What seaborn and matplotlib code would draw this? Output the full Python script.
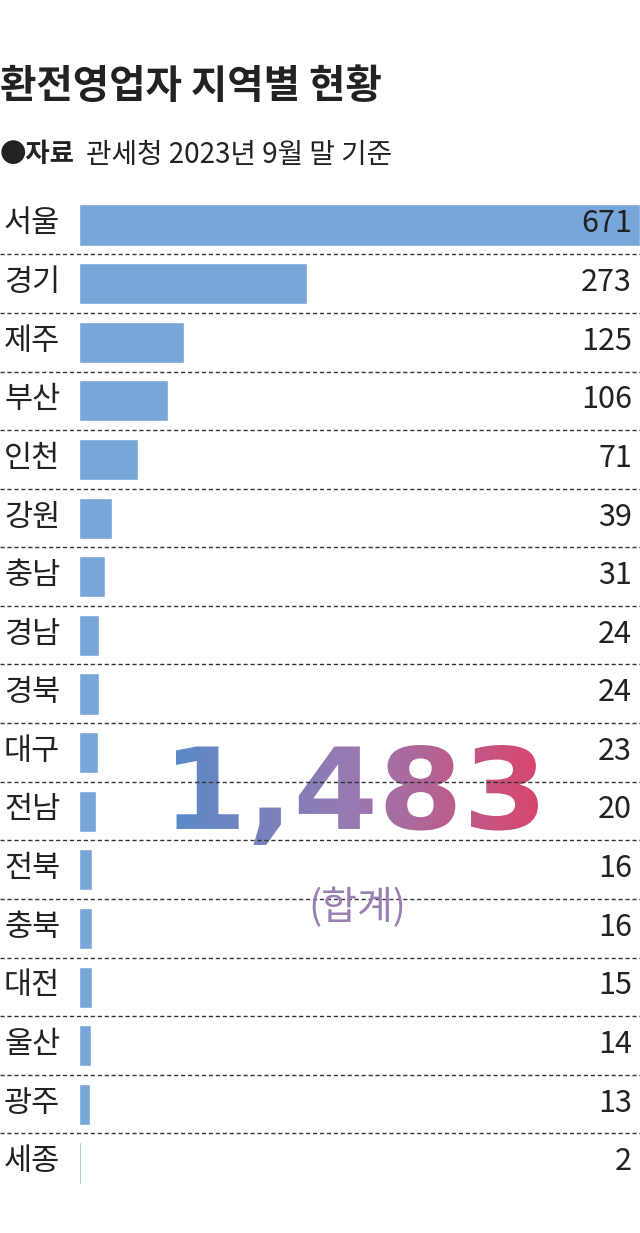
import numpy as np
import matplotlib
matplotlib.use("Agg")
import matplotlib.pyplot as plt
import seaborn as sns
from matplotlib.textpath import TextPath
from matplotlib.font_manager import FontProperties
from matplotlib.patches import PathPatch
from matplotlib.path import Path

regions = ["서울", "경기", "제주", "부산", "인천", "강원", "충남", "경남", "경북",
           "대구", "전남", "전북", "충북", "대전", "울산", "광주", "세종"]
counts = [671, 273, 125, 106, 71, 39, 31, 24, 24, 23, 20, 16, 16, 15, 14, 13, 2]
total_label = "1,483"

sns.set_theme(style="white")
plt.rcParams["font.family"] = ["Noto Sans CJK KR", "DejaVu Sans"]

fig = plt.figure(figsize=(6.4, 12.33), dpi=100)
ax = fig.add_axes([79 / 640, 1 - 1192.3 / 1233, 1 - 79 / 640, (1192.3 - 195.7) / 1233])
sns.barplot(x=counts, y=regions, ax=ax, color="#79a6d9", saturation=1, width=0.7, orient="h")
ax.set_xlim(0, 671)
ax.set_ylim(len(regions) - 0.5, -0.5)
ax.axis("off")

for i, (r, c) in enumerate(zip(regions, counts)):
    y = 1 - (224 + i * 58.6) / 1233
    fig.text(4 / 640, y, r, fontsize=22, va="center", ha="left", color="#222222")
    fig.text(632 / 640, y, str(c), fontsize=22, va="center", ha="right", color="#222222")
    if i < len(regions) - 1:
        ly = 1 - (225 + (i + 0.5) * 58.6) / 1233
        fig.add_artist(plt.Line2D([0, 1], [ly, ly], transform=fig.transFigure,
                                  color="#333333", lw=1, ls=(0, (3, 2))))

fig.text(0 / 640, 1 - 86 / 1233, "환전영업자 지역별 현황", fontsize=28.5, fontweight="bold",
         va="center", ha="left", color="#222222")
fig.text(0 / 640, 1 - 155 / 1233, "●자료", fontsize=19, fontweight="bold",
         va="center", ha="left", color="#222222")
fig.text(86 / 640, 1 - 155 / 1233, "관세청 2023년 9월 말 기준", fontsize=20,
         va="center", ha="left", color="#222222")

# gradient big number
gax = fig.add_axes([0, 0, 1, 1], facecolor="none")
gax.set_xlim(0, 640)
gax.set_ylim(1233, 0)
gax.axis("off")
fp = FontProperties(family="DejaVu Sans", weight="bold")
tp = TextPath((0, 0), total_label, size=100, prop=fp)
bb = tp.get_extents()
sx = 362 / bb.width
sy = 100 / bb.height
verts = tp.vertices.copy()
verts[:, 0] = 176 + (verts[:, 0] - bb.x0) * sx
verts[:, 1] = 845 - (verts[:, 1] - bb.y0) * sy
path = Path(verts, tp.codes)
patch = PathPatch(path, facecolor="none", edgecolor="none")
gax.add_patch(patch)
grad = np.linspace(0, 1, 256).reshape(1, -1)
cmap = matplotlib.colors.LinearSegmentedColormap.from_list("g", ["#5a8ac8", "#9a78b0", "#d8466e"])
im = gax.imshow(grad, extent=[176, 538, 850, 740], aspect="auto", cmap=cmap)
im.set_clip_path(patch)

fig.text(357 / 640, 1 - 908 / 1233, "(합계)", fontsize=28, color="#9a80b3",
         va="center", ha="center")

fig.savefig("out.png", dpi=100)
